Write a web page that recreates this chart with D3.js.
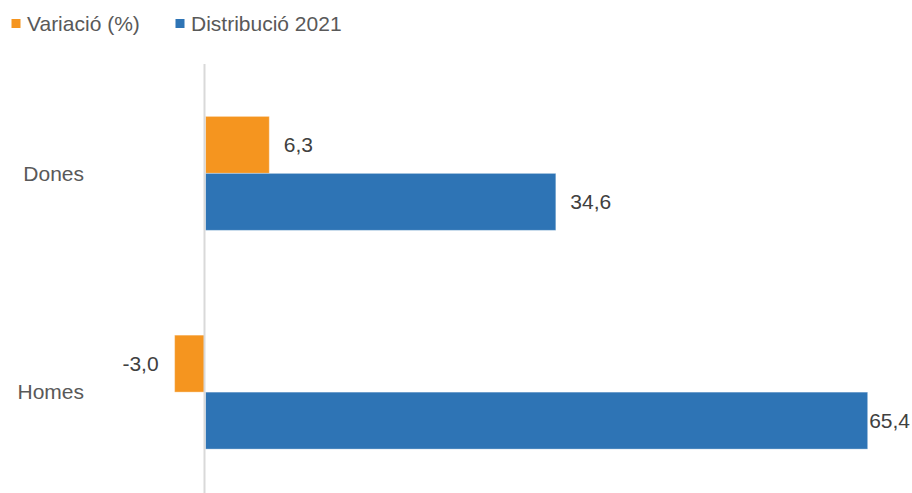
<!DOCTYPE html>
<html>
<head>
<meta charset="utf-8">
<script src="https://cdn.jsdelivr.net/npm/d3@7"></script>
<style>
  html, body { margin: 0; padding: 0; background: #fff; }
  svg { display: block; font-family: "Liberation Sans", Arial, sans-serif; }
</style>
</head>
<body>
<svg id="chart" width="912" height="493"></svg>
<script>
const categories = ["Dones", "Homes"];
const seriesNames = ["Variació (%)", "Distribució 2021"];
const variacio = [6.3, -3.0];
const distribucio = [34.6, 65.4];
const labelsVariacio = ["6,3", "-3,0"];
const labelsDistribucio = ["34,6", "65,4"];
const colors = ["#F5951F", "#2E74B5"];

const W = 912, H = 493;
const svg = d3.select("#chart");
const textColor = "#595959";
const fontSize = 21;

const x = d3.scaleLinear().domain([-20, 70]).range([2.5, 913.75]);
const y = d3.scaleBand().domain(categories).range([64, 501.5]).paddingInner(0.479).paddingOuter(0.2395);
const ySub = d3.scaleBand().domain([0, 1]).range([0, y.bandwidth()]);

const data = categories.map((c, i) => ({
  cat: c,
  vals: [
    { s: 0, v: variacio[i], label: labelsVariacio[i] },
    { s: 1, v: distribucio[i], label: labelsDistribucio[i] }
  ]
}));

// bars
const groups = svg.selectAll("g.grp").data(data).enter().append("g")
  .attr("class", "grp")
  .attr("transform", d => `translate(0,${y(d.cat)})`);

groups.selectAll("rect").data(d => d.vals).enter().append("rect")
  .attr("x", d => Math.min(x(0), x(d.v)) + (d.v >= 0 ? 0.5 : 0))
  .attr("width", d => Math.abs(x(d.v) - x(0)))
  .attr("y", d => ySub(d.s))
  .attr("height", ySub.bandwidth())
  .attr("fill", d => colors[d.s])
  .attr("stroke", "#ffffff")
  .attr("stroke-opacity", 0.35)
  .attr("stroke-width", 1);

// value labels
groups.selectAll("text.val").data(d => d.vals).enter().append("text")
  .attr("class", "val")
  .attr("font-size", fontSize)
  .attr("fill", "#404040")
  .attr("y", d => ySub(d.s) + ySub.bandwidth() / 2)
  .attr("dy", "0.35em")
  .text(d => d.label)
  .each(function(d) {
    const t = d3.select(this);
    const w = this.getComputedTextLength();
    const gap = 15;
    if (d.v >= 0) {
      let px = x(d.v) + gap;
      if (px + w > W - 1) px = x(d.v) + 2;
      t.attr("x", px).attr("text-anchor", "start");
    } else {
      t.attr("x", x(d.v) - gap - 1).attr("text-anchor", "end");
    }
  });

// vertical axis line
svg.append("line")
  .attr("x1", x(0) - 0.5).attr("x2", x(0) - 0.5)
  .attr("y1", 64).attr("y2", H)
  .attr("stroke", "#d9d9d9").attr("stroke-width", 2);

// category labels
svg.selectAll("text.cat").data(categories).enter().append("text")
  .attr("class", "cat")
  .attr("x", 84)
  .attr("y", d => y(d) + y.bandwidth() / 2)
  .attr("dy", "0.35em")
  .attr("text-anchor", "end")
  .attr("font-size", fontSize)
  .attr("fill", textColor)
  .text(d => d);

// legend
const legendX = [11.5, 175.5];
const leg = svg.selectAll("g.leg").data(seriesNames).enter().append("g")
  .attr("class", "leg")
  .attr("transform", (d, i) => `translate(${legendX[i]},0)`);
leg.append("rect").attr("x", 0).attr("y", 19).attr("width", 9).attr("height", 9)
  .attr("fill", (d, i) => colors[i]);
leg.append("text").attr("x", 15.5).attr("y", 31)
  .attr("font-size", fontSize).attr("fill", textColor)
  .text(d => d);
</script>
</body>
</html>
